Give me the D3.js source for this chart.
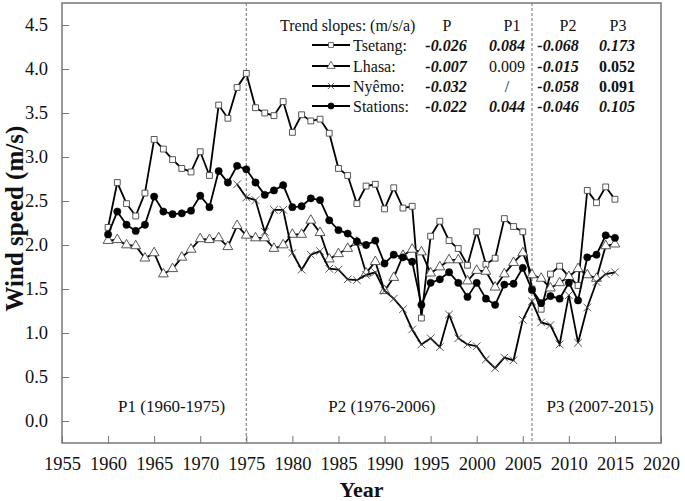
<!DOCTYPE html>
<html>
<head>
<meta charset="utf-8">
<script src="https://cdn.jsdelivr.net/npm/d3@7"></script>
<style>
  body { margin: 0; background: #fff; }
  svg { display: block; font-family: "Liberation Serif", "Times New Roman", serif; }
</style>
</head>
<body>
<div id="chart"></div>
<script>
// data
const years = d3.range(1960, 2016);
const nyemoYears = d3.range(1974, 2016);

const tsetang = [2.20, 2.71, 2.47, 2.33, 2.59, 3.20, 3.09, 2.97, 2.87, 2.83, 3.06, 2.79, 3.59, 3.44, 3.79, 3.95,
  3.56, 3.50, 3.47, 3.63, 3.28, 3.48, 3.41, 3.43, 3.27, 2.87, 2.79, 2.47, 2.67, 2.69, 2.41, 2.65, 2.42, 2.44, 1.17,
  2.10, 2.27, 2.05, 1.96, 1.77, 2.15, 1.78, 1.85, 2.30, 2.21, 2.15, 1.50,
  1.27, 1.67, 1.76, 1.64, 1.54, 2.62, 2.48, 2.66, 2.52];
const lhasa = [2.05, 2.06, 2.00, 1.99, 1.85, 1.91, 1.67, 1.73, 1.86, 1.95, 2.07, 2.06, 2.08, 1.98, 2.22, 2.11,
  2.08, 2.08, 1.96, 2.00, 2.12, 2.12, 2.28, 2.14, 1.84, 1.90, 1.96, 2.03, 1.68, 1.81, 1.48, 1.63, 1.88, 1.95, 1.92,
  1.68, 1.75, 1.83, 1.83, 1.59, 1.71, 1.70, 1.52, 1.67, 1.80, 1.91, 1.66,
  1.62, 1.51, 1.57, 1.64, 1.73, 1.66, 1.62, 1.99, 2.01];
const nyemo = [2.69, 2.54,
  2.51, 2.15, 2.40, 2.40, 1.91, 1.72, 1.89, 1.93, 1.73, 1.72, 1.61, 1.60, 1.66, 1.69, 1.48, 1.39, 1.27, 1.04, 0.87,
  0.94, 0.84, 1.21, 0.94, 0.87, 0.85, 0.70, 0.60, 0.72, 0.69, 1.15, 1.36,
  1.12, 1.09, 0.87, 1.43, 0.89, 1.29, 1.58, 1.67, 1.69];
const stations = [2.12, 2.38, 2.23, 2.16, 2.23, 2.55, 2.38, 2.35, 2.36, 2.39, 2.56, 2.43, 2.84, 2.71, 2.90, 2.86,
  2.71, 2.57, 2.62, 2.68, 2.43, 2.44, 2.53, 2.51, 2.28, 2.17, 2.13, 2.04, 2.00, 2.05, 1.79, 1.89, 1.86, 1.81, 1.32,
  1.57, 1.61, 1.69, 1.57, 1.41, 1.57, 1.39, 1.32, 1.55, 1.56, 1.74, 1.49,
  1.34, 1.42, 1.39, 1.57, 1.37, 1.86, 1.89, 2.11, 2.08];

const xTicks = d3.range(1955, 2021, 5);
const yTicks = [0, 0.5, 1.0, 1.5, 2.0, 2.5, 3.0, 3.5, 4.0, 4.5];
const breakYears = [1975, 2006];
const periodLabels = ['P1 (1960-1975)', 'P2 (1976-2006)', 'P3 (2007-2015)'];

const slopeHeads = ['P', 'P1', 'P2', 'P3'];
// b = bold, i = italic, n = plain
const slopeRows = [
  {name: 'Tsetang:', vals: ['-0.026', '0.084', '-0.068', '0.173'], st: ['bi', 'bi', 'bi', 'bi']},
  {name: 'Lhasa:', vals: ['-0.007', '0.009', '-0.015', '0.052'], st: ['bi', 'n', 'bi', 'b']},
  {name: 'Nyêmo:', vals: ['-0.032', '/', '-0.058', '0.091'], st: ['bi', 'n', 'bi', 'b']},
  {name: 'Stations:', vals: ['-0.022', '0.044', '-0.046', '0.105'], st: ['bi', 'bi', 'bi', 'bi']}
];

const series = [
  {key: 'tsetang', x: years, y: tsetang, sym: d3.symbolSquare, size: 34, fill: '#fff'},
  {key: 'lhasa', x: years, y: lhasa, sym: d3.symbolTriangle, size: 42, fill: '#fff'},
  {key: 'nyemo', x: nyemoYears, y: nyemo, sym: d3.symbolX, size: 40, fill: 'none'},
  {key: 'stations', x: years, y: stations, sym: d3.symbolCircle, size: 42, fill: '#000'}
];

const width = 685, height = 501;
const m = {left: 62, top: 3, right: 685 - 661, bottom: 501 - 443};

const svg = d3.select('#chart').append('svg')
  .attr('width', width)
  .attr('height', height);

const x = d3.scaleLinear().domain([1955, 2020]).range([m.left, width - m.right]);
const y = d3.scaleLinear().domain([-0.25, 4.75]).range([height - m.bottom, m.top]);

const axisColor = '#777';

// break lines
svg.append('g').selectAll('line')
  .data(breakYears)
  .join('line')
  .attr('x1', d => x(d)).attr('x2', d => x(d))
  .attr('y1', y(4.75)).attr('y2', y(-0.25))
  .attr('stroke', '#888')
  .attr('stroke-width', 1.2)
  .attr('stroke-dasharray', '3,2');

// axes, ticks inward
const xAxis = svg.append('g')
  .attr('transform', `translate(0,${height - m.bottom})`)
  .call(d3.axisBottom(x).tickValues(xTicks).tickFormat(d3.format('d')).tickSize(-7).tickPadding(14));
const yAxis = svg.append('g')
  .attr('transform', `translate(${m.left},0)`)
  .call(d3.axisLeft(y).tickValues(yTicks).tickFormat(d3.format('.1f')).tickSize(-7).tickPadding(14));

[xAxis, yAxis].forEach(g => {
  g.select('.domain').remove();
  g.selectAll('.tick line').attr('stroke', axisColor).attr('stroke-width', 1);
  g.selectAll('.tick text')
    .attr('fill', '#111')
    .style('font-family', '"Liberation Serif", "Times New Roman", serif')
    .style('font-size', '18.5px');
});

// frame
svg.append('rect')
  .attr('x', m.left).attr('y', m.top)
  .attr('width', width - m.left - m.right)
  .attr('height', height - m.top - m.bottom)
  .attr('fill', 'none')
  .attr('stroke', axisColor)
  .attr('stroke-width', 1.5);

// series
const line = d3.line();
series.forEach(s => {
  const pts = s.x.map((yr, i) => [x(yr), y(s.y[i])]);
  const g = svg.append('g').attr('class', s.key);
  g.append('path')
    .attr('d', line(pts))
    .attr('fill', 'none')
    .attr('stroke', '#000')
    .attr('stroke-width', 1.8);
  g.selectAll('path.pt')
    .data(pts)
    .join('path')
    .attr('class', 'pt')
    .attr('transform', d => `translate(${d[0]},${d[1]})`)
    .attr('d', d3.symbol(s.sym, s.size))
    .attr('fill', s.fill)
    .attr('stroke', s.key === 'stations' ? '#000' : '#444')
    .attr('stroke-width', s.key === 'stations' ? 0.5 : 0.9);
});

// period labels, placed in the middle of each block
const labelYears = [1966.9, 1989.7, 2013.4];
svg.append('g').selectAll('text')
  .data(periodLabels)
  .join('text')
  .attr('x', (d, i) => x(labelYears[i]))
  .attr('y', 406)
  .attr('dy', '0.35em')
  .attr('text-anchor', 'middle')
  .style('font-size', '17px')
  .attr('fill', '#111')
  .text(d => d);

// trend slope table
const leg = svg.append('g').attr('fill', '#111').style('font-size', '16px');
const colX = [446, 507, 558, 617];
const headX = [447, 512, 568, 618];
const rowY = [45, 66, 86, 106];

leg.append('text')
  .attr('x', 280).attr('y', 25).attr('dy', '0.35em')
  .text('Trend slopes: (m/s/a)');
leg.selectAll('text.head')
  .data(slopeHeads)
  .join('text')
  .attr('class', 'head')
  .attr('x', (d, i) => headX[i]).attr('y', 25).attr('dy', '0.35em')
  .attr('text-anchor', 'middle')
  .text(d => d);

slopeRows.forEach((r, i) => {
  const s = series[i];
  const ry = rowY[i];
  leg.append('line')
    .attr('x1', 312).attr('x2', 350).attr('y1', ry).attr('y2', ry)
    .attr('stroke', '#000').attr('stroke-width', 1.8);
  leg.append('path')
    .attr('transform', `translate(331,${ry})`)
    .attr('d', d3.symbol(s.sym, s.size * 0.7))
    .attr('fill', s.fill)
    .attr('stroke', s.key === 'stations' ? '#000' : '#444')
    .attr('stroke-width', 0.8);
  leg.append('text')
    .attr('x', 353).attr('y', ry).attr('dy', '0.35em')
    .text(r.name);
  leg.selectAll(null)
    .data(r.vals)
    .join('text')
    .attr('x', (d, j) => colX[j]).attr('y', ry).attr('dy', '0.35em')
    .attr('text-anchor', 'middle')
    .style('font-weight', (d, j) => r.st[j].includes('b') ? 'bold' : 'normal')
    .style('font-style', (d, j) => r.st[j].includes('i') ? 'italic' : 'normal')
    .text(d => d);
});

// axis titles
svg.append('text')
  .attr('x', (m.left + width - m.right) / 2).attr('y', 489)
  .attr('dy', '0.35em')
  .attr('text-anchor', 'middle')
  .style('font-size', '22px').style('font-weight', 'bold')
  .attr('fill', '#111')
  .text('Year');
svg.append('text')
  .attr('transform', `translate(14,${y(2.3)}) rotate(-90)`)
  .attr('dy', '0.35em')
  .attr('text-anchor', 'middle')
  .style('font-size', '25px').style('font-weight', 'bold')
  .attr('fill', '#111')
  .text('Wind speed (m/s)');
</script>
</body>
</html>
